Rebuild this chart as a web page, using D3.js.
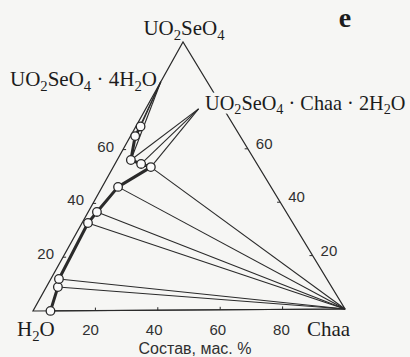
<!DOCTYPE html>
<html>
<head>
<meta charset="utf-8">
<script src="https://cdn.jsdelivr.net/npm/d3@7"></script>
<style>
  html, body { margin: 0; padding: 0; background: #f6f6f4; }
  svg { display: block; }
  text { white-space: pre; }
</style>
</head>
<body>
<svg id="chart" width="410" height="357"></svg>
<script>
// Isotherm of the system UO2SeO4 – Chaa – H2O, composition in mass %.
// Liquid (saturated solution) compositions, in order along the curve.
const solChaa     = [5.6, 3.7, 2.6, 1.9, 2.8, 5.1, 12.1, 8.4, 4.4, 1.5, 1.5];
const solUO2SeO4  = [0.0, 8.9, 11.9, 32.7, 36.8, 46.1, 53.4, 54.6, 56.1, 65.0, 68.6];
// Solid phases (index into the arrays below) in equilibrium with each solution.
const solidOf     = [[0], [0], [0], [0], [0], [0], [0, 1], [1], [1, 2], [2], [2]];
const solidChaa    = [100, 17.0, 0.0];
const solidUO2SeO4 = [0.0, 75.0, 85.2];
// Tick labels on the three sides.
const sideTicks   = [20, 40, 60];
const baseTicks   = [20, 40, 60, 80];

const svg = d3.select("#chart");

// Triangle vertices: H2O (bottom left), Chaa (bottom right), UO2SeO4 (top).
const vH = [33, 311], vC = [345, 309], vU = [183, 42];
const frac = d3.scaleLinear().domain([0, 100]).range([0, 1]);
function proj(chaa, uo2) {
  const c = frac(chaa), u = frac(uo2);
  return [vH[0] + c * (vC[0] - vH[0]) + u * (vU[0] - vH[0]),
          vH[1] + c * (vC[1] - vH[1]) + u * (vU[1] - vH[1])];
}

const ink = "#2a2a2a";
const bg = "#f6f6f4";

// Frame of the triangle
svg.append("path")
  .attr("d", d3.line()([proj(0, 0), proj(100, 0), proj(0, 100)]) + "Z")
  .attr("fill", "none").attr("stroke", ink).attr("stroke-width", 1.2);

// Small ticks on the sides
const tickG = svg.append("g").attr("stroke", ink).attr("stroke-width", 1);
baseTicks.forEach(t => {
  const p = proj(t, 0);
  tickG.append("line").attr("x1", p[0]).attr("y1", p[1]).attr("x2", p[0]).attr("y2", p[1] - 3);
});
sideTicks.forEach(t => {
  const a = proj(0, t), b = proj(2, t);
  tickG.append("line").attr("x1", a[0]).attr("y1", a[1]).attr("x2", a[0] + (b[0] - a[0]) * 0.5).attr("y2", a[1] + (b[1] - a[1]) * 0.5);
  const c = proj(100 - t, t), d = proj(98 - t, t);
  tickG.append("line").attr("x1", c[0]).attr("y1", c[1]).attr("x2", c[0] + (d[0] - c[0]) * 0.5).attr("y2", c[1] + (d[1] - c[1]) * 0.5);
});

// Tie lines from solutions to their solid phases
const tieG = svg.append("g").attr("stroke", ink).attr("stroke-width", 1.1).attr("fill", "none");
solChaa.forEach((c, i) => {
  solidOf[i].forEach(s => {
    const a = proj(c, solUO2SeO4[i]), b = proj(solidChaa[s], solidUO2SeO4[s]);
    tieG.append("line").attr("x1", a[0]).attr("y1", a[1]).attr("x2", b[0]).attr("y2", b[1]);
  });
});

// Solubility curve
const pts = solChaa.map((c, i) => proj(c, solUO2SeO4[i]));
svg.append("path")
  .attr("d", d3.line()(pts))
  .attr("fill", "none").attr("stroke", ink).attr("stroke-width", 3)
  .attr("stroke-linejoin", "round").attr("stroke-linecap", "round");

svg.append("g").selectAll("circle").data(pts).join("circle")
  .attr("cx", d => d[0]).attr("cy", d => d[1]).attr("r", 4.3)
  .attr("fill", "#fbfbfb").attr("stroke", ink).attr("stroke-width", 1.3);

// Formula text; parts starting with "_" are subscripts
function formulaText(x, y, parts, size, anchor) {
  const t = svg.append("text")
    .attr("x", x).attr("y", y)
    .attr("font-family", "'Liberation Serif', 'Times New Roman', serif")
    .attr("font-size", size).attr("fill", "#1c1c1c")
    .attr("text-anchor", anchor);
  let shifted = false;
  parts.forEach(p => {
    const isSub = p.startsWith("_");
    const ts = t.append("tspan").text(isSub ? p.slice(1) : p);
    if (isSub) {
      ts.attr("font-size", size * 0.7);
      if (!shifted) ts.attr("dy", size * 0.22);
      shifted = true;
    } else {
      if (shifted) ts.attr("dy", -size * 0.22);
      shifted = false;
    }
  });
  return t;
}
function formula(x, y, parts, opts = {}) {
  const size = opts.size || 21, anchor = opts.anchor || "start";
  if (opts.halo) {
    // background-coloured outline underneath, so lines behind the label break cleanly
    formulaText(x, y, parts, size, anchor)
      .attr("fill", bg).attr("stroke", bg).attr("stroke-width", 7).attr("stroke-linejoin", "round");
  }
  return formulaText(x, y, parts, size, anchor);
}
const dot = " · ";
formula(184, 35, ["UO", "_2", "SeO", "_4"], { anchor: "middle" });
formula(10, 86, ["UO", "_2", "SeO", "_4", dot + "4H", "_2", "O"]);
formula(205, 110, ["UO", "_2", "SeO", "_4", dot + "Chaa" + dot + "2H", "_2", "O"], { halo: true, size: 20.3 });
formula(17, 336, ["H", "_2", "O"]);
formula(307, 336, ["Chaa"]);

svg.append("text").attr("x", 345).attr("y", 27)
  .attr("font-family", "'Liberation Serif', serif").attr("font-weight", "bold")
  .attr("font-size", 28).attr("text-anchor", "middle").attr("fill", "#1c1c1c").text("e");

// Numeric tick labels
const numStyle = s => s.attr("font-family", "'Liberation Sans', Arial, sans-serif")
  .attr("font-size", 15).attr("fill", "#303030");
sideTicks.forEach(t => {
  const p = proj(0, t);
  numStyle(svg.append("text")).attr("x", p[0] - 9).attr("y", p[1] + 2)
    .attr("text-anchor", "end").text(t);
  const q = proj(100 - t, t);
  numStyle(svg.append("text")).attr("x", q[0] + 8).attr("y", q[1])
    .attr("text-anchor", "start").text(t);
});
baseTicks.forEach(t => {
  const p = proj(t, 0);
  numStyle(svg.append("text")).attr("x", p[0] - 3 + (t - 50) * 0.06).attr("y", 335)
    .attr("text-anchor", "middle").text(t);
});
numStyle(svg.append("text")).attr("x", 195).attr("y", 354)
  .attr("text-anchor", "middle").attr("font-size", 16).text("Состав, мас. %");
</script>
</body>
</html>
